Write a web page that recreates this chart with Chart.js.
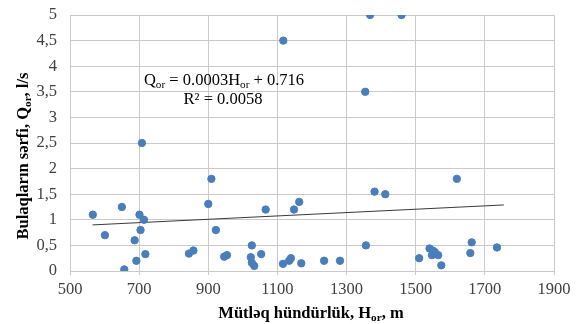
<!DOCTYPE html>
<html>
<head>
<meta charset="utf-8">
<script src="https://cdn.jsdelivr.net/npm/chart.js@4.4.1/dist/chart.umd.min.js"></script>
<style>
  html, body { margin: 0; padding: 0; background: #fff; }
  #wrap { width: 576px; height: 324px; }
</style>
</head>
<body>
<div id="wrap"><canvas id="myChart" width="576" height="324"></canvas></div>
<script>
// spring data: absolute height (m) vs. discharge (l/s)
const heights = [566, 650, 601, 701, 714, 704, 687, 718, 692, 657, 844, 857, 708,
    909, 900, 922, 946, 954, 1026, 1023, 1026, 1033, 1053, 1066, 1116, 1134, 1139,
    1148, 1163, 1169, 1235, 1281, 1356, 1381, 1412, 1117, 1354, 1368, 1459,
    1510, 1540, 1549, 1555, 1547, 1565, 1574, 1619, 1662, 1658, 1735];
const discharges = [1.1, 1.25, 0.7, 1.1, 1.0, 0.8, 0.6, 0.33, 0.2, 0.03, 0.34, 0.4, 2.5,
    1.8, 1.31, 0.8, 0.28, 0.31, 0.5, 0.27, 0.16, 0.1, 0.33, 1.2, 0.14, 0.2, 0.25,
    1.2, 1.35, 0.15, 0.2, 0.2, 0.5, 1.55, 1.5, 4.5, 3.5, 5, 5,
    0.25, 0.44, 0.4, 0.37, 0.31, 0.31, 0.11, 1.8, 0.56, 0.35, 0.46];

// linear trend line ends
const trendX = [565, 1755];
const trendY = [0.9, 1.29];

const xTicks = [500, 700, 900, 1100, 1300, 1500, 1700, 1900];
const yTickLabels = ['0', '0,5', '1', '1,5', '2', '2,5', '3', '3,5', '4', '4,5', '5'];

const eqLine1 = [['Q', false], ['or', true], [' = 0.0003H', false], ['or', true], [' + 0.716', false]];
const eqLine2 = [['R² = 0.0058', false]];
const xTitle = [['Mütləq hündürlük, H', false], ['or', true], [', m', false]];
const yTitle = [['Bulaqların sərfi, Q', false], ['or', true], [', l/s', false]];

const serif = '"Liberation Serif", "Times New Roman", serif';

document.addEventListener("DOMContentLoaded", function () {
    const points = heights.map((h, i) => ({ x: h, y: discharges[i] }));
    const trend = trendX.map((x, i) => ({ x: x, y: trendY[i] }));

    // text line where some parts are subscripts
    function richWidth(ctx, parts, size, bold) {
        let w = 0;
        parts.forEach(p => {
            const s = p[1] ? size * 0.68 : size;
            ctx.font = (bold ? 'bold ' : '') + s + 'px ' + serif;
            w += ctx.measureText(p[0]).width;
        });
        return w;
    }
    function drawRich(ctx, parts, cx, cy, size, bold) {
        const total = richWidth(ctx, parts, size, bold);
        let x = cx - total / 2;
        ctx.textBaseline = 'alphabetic';
        ctx.textAlign = 'left';
        parts.forEach(p => {
            const s = p[1] ? size * 0.68 : size;
            ctx.font = (bold ? 'bold ' : '') + s + 'px ' + serif;
            ctx.fillText(p[0], x, cy + size * 0.33 + (p[1] ? size * 0.16 : 0));
            x += ctx.measureText(p[0]).width;
        });
    }

    const textPlugin = {
        id: 'textPlugin',
        afterDraw(chart) {
            const ctx = chart.ctx;
            ctx.save();
            ctx.fillStyle = '#000';
            drawRich(ctx, xTitle, 311, 313, 16.5, true);
            ctx.translate(23, 156);
            ctx.rotate(-Math.PI / 2);
            drawRich(ctx, yTitle, 0, 0, 16.5, true);
            ctx.restore();

            ctx.save();
            ctx.fillStyle = '#000';
            drawRich(ctx, eqLine1, 224, 80, 16.5, false);
            drawRich(ctx, eqLine2, 223, 99, 16.5, false);
            ctx.restore();
        }
    };

    const ctx = document.getElementById('myChart').getContext('2d');
    const config = {
        type: 'scatter',
        data: {
            datasets: [{
                label: 'Q',
                data: points,
                backgroundColor: '#4a7ebb',
                borderColor: '#4a7ebb',
                pointRadius: 3.7,
                pointHoverRadius: 3.7,
                order: 1
            }, {
                type: 'line',
                label: 'trend',
                data: trend,
                borderColor: '#3a3a3a',
                borderWidth: 1,
                pointRadius: 0,
                fill: false,
                order: 2
            }]
        },
        options: {
            responsive: false,
            animation: false,
            layout: { padding: { left: 0, right: 22, top: 15, bottom: 0 } },
            plugins: {
                legend: { display: false },
                tooltip: { enabled: false }
            },
            scales: {
                x: {
                    type: 'linear',
                    min: 500,
                    max: 1900,
                    afterBuildTicks: (scale) => { scale.ticks = xTicks.map(v => ({ value: v })); },
                    afterFit: (scale) => { scale.height = 53; },
                    grid: { color: '#cacaca', lineWidth: 1, tickLength: 4 },
                    border: { color: '#cacaca' },
                    ticks: {
                        padding: 5,
                        color: '#404040',
                        font: { family: serif, size: 16.5 },
                        callback: (value) => String(value)
                    }
                },
                y: {
                    min: 0,
                    max: 5,
                    afterBuildTicks: (scale) => { scale.ticks = yTickLabels.map((t, i) => ({ value: i * 0.5 })); },
                    afterFit: (scale) => { scale.width = 70; },
                    grid: { color: '#cacaca', lineWidth: 1, tickLength: 13, tickColor: 'rgba(0,0,0,0)' },
                    border: { color: '#cacaca' },
                    ticks: {
                        padding: 0,
                        color: '#404040',
                        font: { family: serif, size: 16.5 },
                        callback: (value, index) => yTickLabels[index]
                    }
                }
            }
        },
        plugins: [textPlugin]
    };

    const myChart = new Chart(ctx, config);
});
</script>
</body>
</html>
